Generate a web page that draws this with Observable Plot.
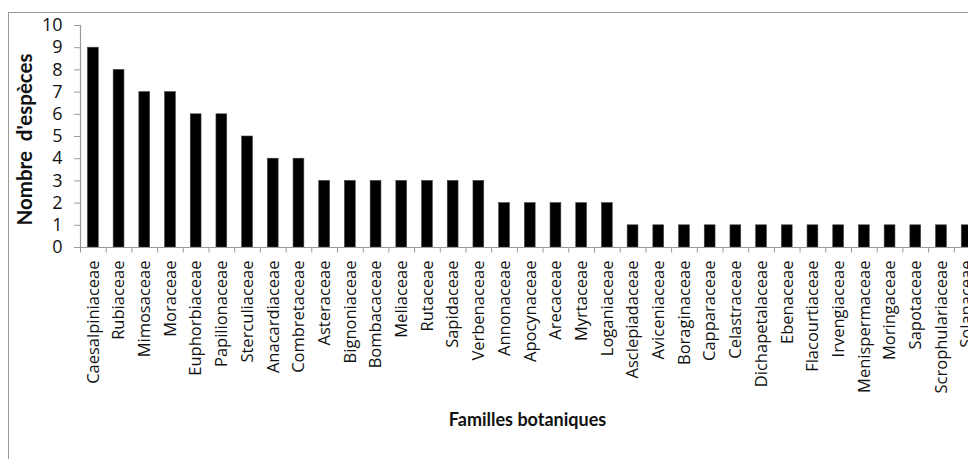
<!DOCTYPE html>
<html><head><meta charset="utf-8">
<script src="https://cdn.jsdelivr.net/npm/d3@7"></script>
<script src="https://cdn.jsdelivr.net/npm/@observablehq/plot@0.6"></script>
<style>
html,body{margin:0;padding:0;background:#fff;overflow:hidden;}
#wrap{position:relative;width:968px;height:459px;overflow:hidden;background:#fff;}
#border{position:absolute;left:8px;top:12px;width:1100px;height:600px;border-left:1.5px solid #9a9a9a;border-top:1.5px solid #9a9a9a;}
#chart{position:absolute;left:0;top:0;}
</style></head><body><div id="wrap"><div id="border"></div><div id="chart"></div></div>
<script>
const families = ["Caesalpiniaceae","Rubiaceae","Mimosaceae","Moraceae","Euphorbiaceae","Papilionaceae","Sterculiaceae","Anacardiaceae","Combretaceae","Asteraceae","Bignoniaceae","Bombacaceae","Meliaceae","Rutaceae","Sapidaceae","Verbenaceae","Annonaceae","Apocynaceae","Arecaceae","Myrtaceae","Loganiaceae","Asclepiadaceae","Aviceniaceae","Boraginaceae","Capparaceae","Celastraceae","Dichapetalaceae","Ebenaceae","Flacourtiaceae","Irvengiaceae","Menispermaceae","Moringaceae","Sapotaceae","Scrophulariaceae","Solanaceae"];
const species = [9,8,7,7,6,6,5,4,4,3,3,3,3,3,3,3,2,2,2,2,2,1,1,1,1,1,1,1,1,1,1,1,1,1,1];
const yTicks = [0,1,2,3,4,5,6,7,8,9,10];
const yTitle = "Nombre  d'espèces";
const xTitle = "Familles botaniques";

const data = families.map((f, i) => ({famille: f, n: species[i]}));
const step = 25.7;
const chart = Plot.plot({
  width: 968, height: 459,
  marginLeft: 80, marginTop: 25, marginBottom: 212, marginRight: 0,
  style: {fontFamily: "'Open Sans', Lato, sans-serif", background: "transparent", overflow: "visible"},
  x: {domain: families, range: [80, 80 + step * families.length], paddingInner: 0.58, paddingOuter: 0.29, round: false},
  y: {domain: [0, 10], range: [247, 25]},
  marks: [
    Plot.barY(data, {x: "famille", y: "n", fill: "#000", stroke: "#444", strokeWidth: 0.6}),
    Plot.ruleY([0], {stroke: "#9a9a9a", strokeWidth: 1.2}),
    Plot.ruleX(families, {x: d => d, y1: 0, y2: -0.25, dx: -step / 2, stroke: "#9a9a9a", strokeWidth: 1}),
    Plot.frame({anchor: "left", stroke: "#9a9a9a", strokeWidth: 1.2}),
    Plot.axisY({ticks: yTicks, tickSize: 6, tickPadding: 12, fontSize: 18, stroke: "#9a9a9a", fill: "#111", label: null}),
    Plot.axisX({tickSize: 0, tickRotate: -90, tickPadding: 13, fontSize: 16.5, fill: "#111", label: null}),
    Plot.text([yTitle], {frameAnchor: "left", dx: -55, dy: 3, rotate: -90, textAnchor: "middle", fontSize: 20.5, fontWeight: "bold", fill: "#111", fontFamily: "Lato"}),
    Plot.text([xTitle], {frameAnchor: "bottom", dx: 3, dy: 178, fontSize: 18, fontWeight: "bold", fill: "#111", fontFamily: "Lato"})
  ]
});
document.getElementById("chart").append(chart);
</script>
</body></html>
